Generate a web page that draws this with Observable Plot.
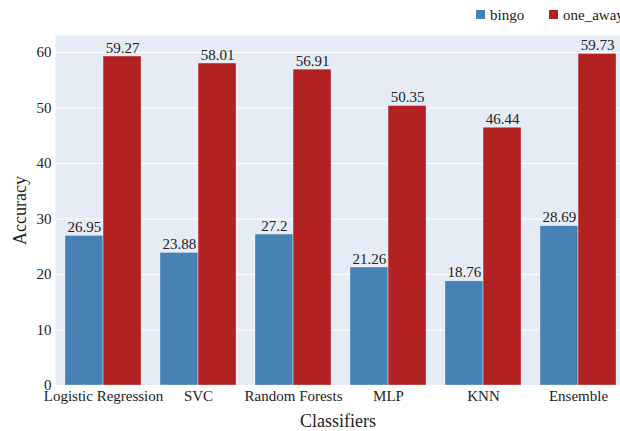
<!DOCTYPE html>
<html>
<head>
<meta charset="utf-8">
<script src="https://cdn.jsdelivr.net/npm/d3@7"></script>
<script src="https://cdn.jsdelivr.net/npm/@observablehq/plot@0.6"></script>
<style>
  html, body { margin: 0; padding: 0; background: #fff; overflow: hidden; }
  #wrap { position: relative; width: 620px; height: 431px; overflow: hidden; }
</style>
</head>
<body>
<div id="wrap"><div id="chart"></div></div>
<script>
const classifiers = ["Logistic Regression", "SVC", "Random Forests", "MLP", "KNN", "Ensemble"];
const seriesNames = ["bingo", "one_away"];
const bingo = [26.95, 23.88, 27.2, 21.26, 18.76, 28.69];
const oneAway = [59.27, 58.01, 56.91, 50.35, 46.44, 59.73];
const colors = ["#4682B4", "#B22222"];
const yTicks = [0, 10, 20, 30, 40, 50, 60];

const data = [];
classifiers.forEach((c, i) => {
  data.push({classifier: c, series: "bingo", value: bingo[i]});
  data.push({classifier: c, series: "one_away", value: oneAway[i]});
});

const W = 620, H = 431;
const pLeft = 55, pRight = 626, pTop = 35, pBottom = 385;
const step = (pRight - pLeft) / 6;
const bw = step * 0.8;
const half = bw / 2;

const font = "'Liberation Serif', 'Times New Roman', serif";

const plot = Plot.plot({
  width: W,
  height: H,
  marginLeft: pLeft,
  marginRight: 0,
  marginTop: pTop,
  marginBottom: H - pBottom,
  style: {fontFamily: font, fontSize: "15px", color: "#222", background: "transparent"},
  x: {domain: classifiers, range: [pLeft, pRight], paddingInner: 0.2, paddingOuter: 0.1, label: null},
  y: {domain: [0, 63.06], range: [pBottom, pTop], label: null},
  color: {domain: seriesNames, range: colors},
  marks: [
    Plot.frame({fill: "#E5ECF6", stroke: null}),
    Plot.gridY(yTicks, {stroke: "#fff", strokeOpacity: 1, strokeWidth: 1}),
    Plot.barY(data.filter(d => d.series === "bingo"), {x: "classifier", y: "value", fill: "series", insetRight: half, stroke: "#fff", strokeWidth: 0.5, strokeOpacity: 0.6}),
    Plot.barY(data.filter(d => d.series === "one_away"), {x: "classifier", y: "value", fill: "series", insetLeft: half, stroke: "#fff", strokeWidth: 0.5, strokeOpacity: 0.6}),
    Plot.text(data.filter(d => d.series === "bingo"), {x: "classifier", y: "value", text: d => String(d.value), dx: -half / 2, dy: -4, lineAnchor: "bottom", fontSize: 15, fill: "#222"}),
    Plot.text(data.filter(d => d.series === "one_away"), {x: "classifier", y: "value", text: d => String(d.value), dx: half / 2, dy: -4, lineAnchor: "bottom", fontSize: 15, fill: "#222"}),
    Plot.axisY({ticks: yTicks, tickSize: 0, tickPadding: 4, fontSize: 15, label: "Accuracy", labelAnchor: "center", labelArrow: "none", labelOffset: 42}),
    Plot.axisX({tickSize: 0, tickPadding: 5, fontSize: 15, label: "Classifiers", labelAnchor: "center", labelArrow: "none", labelOffset: 41})
  ]
});
document.getElementById("chart").appendChild(plot);

plot.querySelectorAll("[aria-label='y-axis label'], [aria-label='x-axis label']").forEach(g => g.setAttribute("font-size", "18"));

// legend drawn into the SVG's top margin
const svg = d3.select(plot);
const lg = svg.append("g").attr("aria-label", "legend").attr("font-family", font).attr("font-size", 15).attr("text-anchor", "start");
const legendX = [476, 549];
seriesNames.forEach((s, i) => {
  lg.append("rect").attr("x", legendX[i]).attr("y", 10).attr("width", 9).attr("height", 9).attr("fill", colors[i]);
  lg.append("text").attr("x", legendX[i] + 14).attr("y", 14.5).attr("dy", "0.35em").attr("text-anchor", "start").attr("fill", "#222").text(s);
});
</script>
</body>
</html>
